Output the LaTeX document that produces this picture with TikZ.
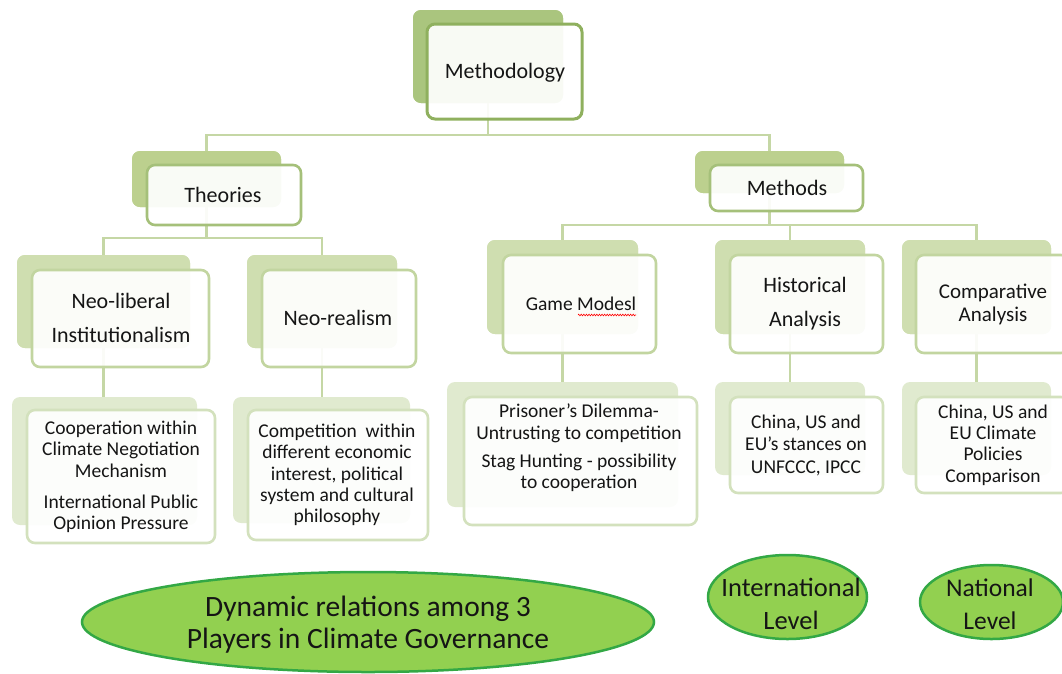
\documentclass[tikz,border=0pt]{standalone}
\usepackage{fontspec}
\setmainfont{Carlito}
\usetikzlibrary{shapes.geometric,decorations.pathmorphing}
\definecolor{shA}{HTML}{AAC57E}
\definecolor{bdA}{HTML}{8FB05E}
\definecolor{shB}{HTML}{BCD08E}
\definecolor{bdB}{HTML}{A5C07A}
\definecolor{shC}{HTML}{CFDEB0}
\definecolor{bdC}{HTML}{C2D5A0}
\definecolor{shD}{HTML}{E0EACF}
\definecolor{bdD}{HTML}{D3E1BD}
\definecolor{connc}{HTML}{C5D7A5}
\definecolor{ellfill}{HTML}{92D050}
\definecolor{elldraw}{HTML}{33A845}
\definecolor{txtc}{HTML}{151515}
\tikzset{
  box/.style={rectangle, rounded corners=8pt, inner sep=0pt, outer sep=0pt},
  shadowA/.style={box, fill=shA},
  shadowB/.style={box, fill=shB},
  shadowC/.style={box, fill=shC},
  shadowD/.style={box, fill=shD},
  frontbox/.style={box, fill=white, fill opacity=0.92, line width=2.6pt},
  frontA/.style={frontbox, draw=bdA, line width=3pt},
  frontB/.style={frontbox, draw=bdB},
  frontC/.style={frontbox, draw=bdC},
  frontD/.style={frontbox, draw=bdD},
  conn/.style={draw=connc, line width=2.5pt},
  lbl/.style={inner sep=0pt, align=center, text=txtc},
  headfont/.style={font=\fontsize{22}{34}\selectfont},
  smallfont/.style={font=\fontsize{19.5}{21.3}\selectfont},
  ell/.style={ellipse, fill=ellfill, draw=elldraw, line width=2.5pt, inner sep=0pt}
}
\begin{document}
\begin{tikzpicture}[x=1pt,y=-1pt]
\useasboundingbox (0,0) rectangle (1062,673);
% shadows (placed first as anchors for connectors)
\node[shadowA, minimum width=150pt, minimum height=93pt] (methS) at (488,56.5) {};
\node[shadowB, minimum width=149pt, minimum height=56pt] (thS) at (206.5,179) {};
\node[shadowB, minimum width=149pt, minimum height=42pt] (mtS) at (769.5,172) {};
\node[shadowC, minimum width=173pt, minimum height=93pt] (nlS) at (103.5,301.5) {};
\node[shadowC, minimum width=150pt, minimum height=93pt] (nrS) at (322,301.5) {};
\node[shadowC, minimum width=151pt, minimum height=94pt] (gmS) at (562.5,287) {};
\node[shadowC, minimum width=150pt, minimum height=94pt] (haS) at (790,287) {};
\node[shadowC, minimum width=149pt, minimum height=94pt] (caS) at (976.5,287) {};
\node[shadowD, minimum width=185pt, minimum height=128pt] (coS) at (104.5,461) {};
\node[shadowD, minimum width=177pt, minimum height=126pt] (cpS) at (321.5,460) {};
\node[shadowD, minimum width=231pt, minimum height=125pt] (pdS) at (562.5,444.5) {};
\node[shadowD, minimum width=150pt, minimum height=93pt] (csS) at (790,428.5) {};
\node[shadowD, minimum width=149pt, minimum height=93pt] (ccS) at (976.5,428.5) {};
% connectors
\coordinate (b1) at (488,135);
\coordinate (b2) at (206.5,238);
\coordinate (b3) at (769.5,225);
\draw[conn] (methS.center) -- (b1) -| (thS.north);
\draw[conn] (b1) -| (mtS.north);
\draw[conn] (thS.center) -- (b2) -| (nlS.north);
\draw[conn] (b2) -| (nrS.north);
\draw[conn] (mtS.center) -- (b3) -| (gmS.north);
\draw[conn] (b3) -| (haS.north);
\draw[conn] (b3) -| (caS.north);
\draw[conn] (nlS.center) -- (nlS.center |- coS.north);
\draw[conn] (nrS.center) -- (nrS.center |- cpS.north);
\draw[conn] (gmS.center) -- (gmS.center |- pdS.north);
\draw[conn] (haS.center) -- (haS.center |- csS.north);
\draw[conn] (caS.center) -- (caS.center |- ccS.north);
% redraw shadows over connector stubs
\fill[shA, rounded corners=8pt] (methS.south west) rectangle (methS.north east);
\fill[shB, rounded corners=8pt] (thS.south west) rectangle (thS.north east);
\fill[shB, rounded corners=8pt] (mtS.south west) rectangle (mtS.north east);
\fill[shC, rounded corners=8pt] (nlS.south west) rectangle (nlS.north east);
\fill[shC, rounded corners=8pt] (nrS.south west) rectangle (nrS.north east);
\fill[shC, rounded corners=8pt] (gmS.south west) rectangle (gmS.north east);
\fill[shC, rounded corners=8pt] (haS.south west) rectangle (haS.north east);
\fill[shC, rounded corners=8pt] (caS.south west) rectangle (caS.north east);
% front boxes
\node[frontA, minimum width=155pt, minimum height=95pt] (methF) at (504.5,71.5) {};
\node[frontB, minimum width=154pt, minimum height=60pt] (thF) at (224,195) {};
\node[frontB, minimum width=153pt, minimum height=46pt] (mtF) at (786.5,188) {};
\node[frontC, minimum width=177pt, minimum height=97pt] (nlF) at (120.5,318.5) {};
\node[frontC, minimum width=154pt, minimum height=97pt] (nrF) at (339,318.5) {};
\node[frontC, minimum width=153pt, minimum height=98pt] (gmF) at (579.5,304) {};
\node[frontC, minimum width=153pt, minimum height=98pt] (haF) at (806.5,304) {};
\node[frontC, minimum width=153pt, minimum height=98pt] (caF) at (992.5,304) {};
\node[frontD, minimum width=188pt, minimum height=133pt] (coF) at (121,476.5) {};
\node[frontD, minimum width=180pt, minimum height=130pt] (cpF) at (338,475) {};
\node[frontD, minimum width=233pt, minimum height=128pt] (pdF) at (580.5,461) {};
\node[frontD, minimum width=153pt, minimum height=96pt] (csF) at (806.5,445) {};
\node[frontD, minimum width=153pt, minimum height=96pt] (ccF) at (992.5,445) {};
% texts
\node[lbl, headfont] (methT) at (505,73) {Methodology};
\node[lbl, headfont] (thT) at (223,195) {Theories};
\node[lbl, headfont] (mtT) at (787,188) {Methods};
\node[lbl, headfont] (nlT) at (121,318) {Neo-liberal\\Institutionalism};
\node[lbl, headfont] (nrT) at (338,318) {Neo-realism};
\node[lbl, font=\fontsize{19.5}{22}\selectfont] (gmT) at (581,304) {Game Modesl};
\draw[red, line width=0.6pt, decorate, decoration={zigzag, segment length=2.6pt, amplitude=0.8pt}] (578,315) -- (636,315);
\node[lbl, headfont] (haT) at (805,304) {Historical\\Analysis};
\node[lbl, font=\fontsize{21}{23}\selectfont] (caT) at (993,304) {Comparative\\Analysis};
\node[lbl, smallfont] (coT) at (121,477) {Cooperation within\\Climate Negotiation\\Mechanism\\[10pt]International Public\\Opinion Pressure};
\node[lbl, smallfont] (cpT) at (337,475) {Competition~ within\\different economic\\interest, political\\system and cultural\\philosophy};
\node[lbl, smallfont] (pdT) at (579,448) {Prisoner’s Dilemma-\\Untrusting to competition\\[7pt]Stag Hunting - possibility\\to cooperation};
\node[lbl, font=\fontsize{19.5}{22.5}\selectfont] (csT) at (806,445) {China, US and\\EU’s stances on\\UNFCCC, IPCC};
\node[lbl, smallfont] (ccT) at (993,445) {China, US and\\EU Climate\\Policies\\Comparison};
% ellipses
\node[ell, minimum width=572pt, minimum height=100pt] (dyn) at (368,622) {};
\node[lbl, font=\fontsize{29.5}{32}\selectfont] (dynT) at (368,625) {Dynamic relations among 3\\Players in Climate Governance};
\node[ell, minimum width=159pt, minimum height=84pt] (intl) at (787.5,597) {};
\node[lbl, font=\fontsize{26.5}{33}\selectfont] (intlT) at (791,604) {International\\Level};
\node[ell, minimum width=143pt, minimum height=74pt] (natl) at (991.5,602) {};
\node[lbl, font=\fontsize{25.5}{33}\selectfont] (natlT) at (990,604) {National\\Level};
\end{tikzpicture}
\end{document}
